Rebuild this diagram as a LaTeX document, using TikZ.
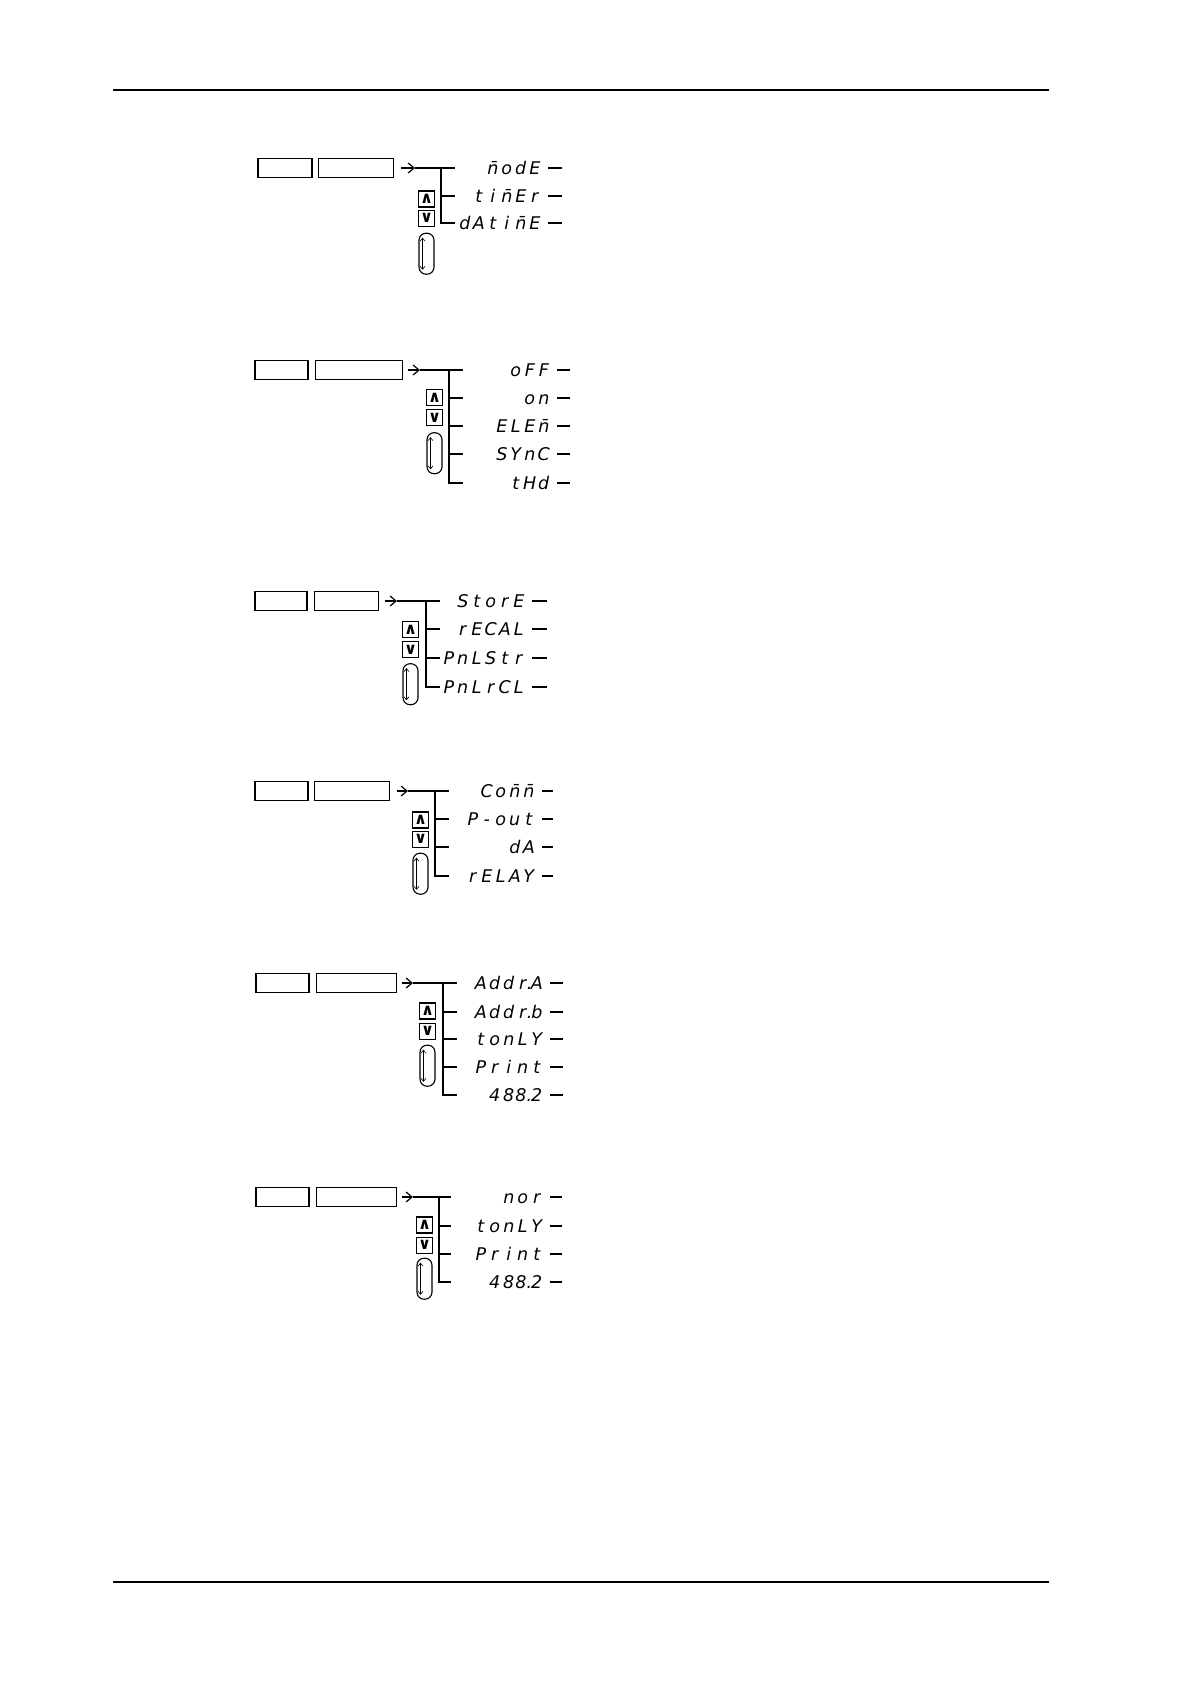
\documentclass[tikz,border=0pt]{standalone}
\usepackage{amsmath}
\usepackage{fontspec}
\newfontfamily\segfont{DejaVu Sans}
\usetikzlibrary{positioning, arrows.meta}
\ExplSyntaxOn
\NewDocumentCommand\seg{m}{\tl_map_inline:nn {#1}{\makebox[14pt][c]{##1}}}
\ExplSyntaxOff

\begin{document}
\begin{tikzpicture}[x=1pt, y=-1pt,
keybox/.style={rectangle, draw, line width=1.2pt, minimum height=19pt, inner sep=0pt},
arrowkey/.style={rectangle, draw, line width=1.1pt, minimum size=16pt, inner sep=0pt,
      font=\segfont\bfseries\fontsize{16}{16}\selectfont},
loopkey/.style={rectangle, draw, rounded corners=7pt, line width=1.1pt,
      minimum width=15pt, minimum height=41pt, inner sep=0pt},
seg/.style={anchor=east, inner sep=0pt, text height=12.5pt, text depth=0pt,
      font=\segfont\itshape\fontsize{17.5}{17.5}\selectfont},
bus/.style={line width=1.6pt},
branch/.style={line width=1.1pt},
feed/.style={-{Straight Barb[length=6pt, width=10pt]}, line width=1.2pt},
updown/.style={{Straight Barb[length=3pt, width=5pt]}-{Straight Barb[length=3pt, width=5pt]}, line width=0.6pt},]
 \fill[white] (0,0) rectangle (1190,1684);
 \draw[line width=1.2pt] (113,90) -- (1049,90);
 \draw[line width=1.2pt] (113,1582) -- (1049,1582);

 % menu 1
 \node[keybox, minimum width=54pt] (fn1) at (285,168) {};
 \node[keybox, minimum width=75pt, right=5pt of fn1] (sel1) {};
 \node[arrowkey] (up1) at (426.5,199) {∧};
 \node[arrowkey, below=2pt of up1] (dn1) {∨};
 \node[loopkey, below=6pt of dn1] (cyc1) {};
 \coordinate (tip1) at (415,168);
 \coordinate (tr1) at (441,168);
 \coordinate (end1) at (455,168);
 \node[seg] (m1a) at (542,168) {\seg{{n̄}odE}};
 \node[seg] (m1b) at (542,196) {\seg{ti{n̄}Er}};
 \node[seg] (m1c) at (542,223) {\seg{dAti{n̄}E}};
 \draw[feed, shorten <=7pt] (sel1) -- (tip1);
 \draw[bus] (tip1) -- (end1);
 \draw[branch] (tr1) |- (m1c -| end1);
 \draw[branch] (m1b -| tr1) -- (m1b -| end1);
 \foreach \m in {m1a,m1b,m1c} \draw[branch] ([xshift=6pt]\m.east) -- ++(14pt,0);
 \draw[updown] ([xshift=-4pt, yshift=-5pt]cyc1.north) -- ([xshift=-4pt, yshift=5pt]cyc1.south);

 % menu 2
 \node[keybox, minimum width=53pt] (fn2) at (281.5,370) {};
 \node[keybox, minimum width=87pt, right=6pt of fn2] (sel2) {};
 \node[arrowkey] (up2) at (434.5,397.5) {∧};
 \node[arrowkey, below=3pt of up2] (dn2) {∨};
 \node[loopkey, below=6pt of dn2] (cyc2) {};
 \coordinate (tip2) at (420,370);
 \coordinate (tr2) at (449,370);
 \coordinate (end2) at (463,370);
 \node[seg] (m2a) at (551,370) {\seg{oFF}};
 \node[seg] (m2b) at (551,398) {\seg{on}};
 \node[seg] (m2c) at (551,426) {\seg{ELE{n̄}}};
 \node[seg] (m2d) at (551,454) {\seg{SYnC}};
 \node[seg] (m2e) at (551,483) {\seg{tHd}};
 \draw[feed, shorten <=5pt] (sel2) -- (tip2);
 \draw[bus] (tip2) -- (end2);
 \draw[branch] (tr2) |- (m2e -| end2);
 \foreach \m in {m2b,m2c,m2d} \draw[branch] (\m -| tr2) -- (\m -| end2);
 \foreach \m in {m2a,m2b,m2c,m2d,m2e} \draw[branch] ([xshift=6pt]\m.east) -- ++(13pt,0);
 \draw[updown] ([xshift=-4pt, yshift=-5pt]cyc2.north) -- ([xshift=-4pt, yshift=5pt]cyc2.south);

 % menu 3
 \node[keybox, minimum width=52pt] (fn3) at (281,601) {};
 \node[keybox, minimum width=64pt, right=6pt of fn3] (sel3) {};
 \node[arrowkey] (up3) at (410.5,629.5) {∧};
 \node[arrowkey, below=3pt of up3] (dn3) {∨};
 \node[loopkey, below=5pt of dn3] (cyc3) {};
 \coordinate (tip3) at (397,601);
 \coordinate (tr3) at (426,601);
 \coordinate (end3) at (440,601);
 \node[seg] (m3a) at (526,601) {\seg{StorE}};
 \node[seg] (m3b) at (526,629) {\seg{rECAL}};
 \node[seg] (m3c) at (526,658) {\seg{PnLStr}};
 \node[seg] (m3d) at (526,687) {\seg{PnLrCL}};
 \draw[feed, shorten <=6pt] (sel3) -- (tip3);
 \draw[bus] (tip3) -- (end3);
 \draw[branch] (tr3) |- (m3d -| end3);
 \foreach \m in {m3b,m3c} \draw[branch] (\m -| tr3) -- (\m -| end3);
 \foreach \m in {m3a,m3b,m3c,m3d} \draw[branch] ([xshift=6pt]\m.east) -- ++(15pt,0);
 \draw[updown] ([xshift=-4pt, yshift=-5pt]cyc3.north) -- ([xshift=-4pt, yshift=5pt]cyc3.south);

 % menu 4
 \node[keybox, minimum width=53pt] (fn4) at (281.5,791) {};
 \node[keybox, minimum width=75pt, right=5pt of fn4] (sel4) {};
 \node[arrowkey] (up4) at (420.5,820) {∧};
 \node[arrowkey, below=2pt of up4] (dn4) {∨};
 \node[loopkey, below=5pt of dn4] (cyc4) {};
 \coordinate (tip4) at (408,791);
 \coordinate (tr4) at (435,791);
 \coordinate (end4) at (449,791);
 \node[seg] (m4a) at (536,791) {\seg{Co{n̄}{n̄}}};
 \node[seg] (m4b) at (536,819) {\seg{P-out}};
 \node[seg] (m4c) at (536,847) {\seg{dA}};
 \node[seg] (m4d) at (536,876) {\seg{rELAY}};
 \draw[feed, shorten <=7pt] (sel4) -- (tip4);
 \draw[bus] (tip4) -- (end4);
 \draw[branch] (tr4) |- (m4d -| end4);
 \foreach \m in {m4b,m4c} \draw[branch] (\m -| tr4) -- (\m -| end4);
 \foreach \m in {m4a,m4b,m4c,m4d} \draw[branch] ([xshift=6pt]\m.east) -- ++(11pt,0);
 \draw[updown] ([xshift=-4pt, yshift=-5pt]cyc4.north) -- ([xshift=-4pt, yshift=5pt]cyc4.south);

 % menu 5
 \node[keybox, minimum width=53pt] (fn5) at (282.5,983) {};
 \node[keybox, minimum width=80pt, right=6pt of fn5] (sel5) {};
 \node[arrowkey] (up5) at (427.5,1011) {∧};
 \node[arrowkey, below=3pt of up5] (dn5) {∨};
 \node[loopkey, below=5pt of dn5] (cyc5) {};
 \coordinate (tip5) at (413,983);
 \coordinate (tr5) at (443,983);
 \coordinate (end5) at (457,983);
 \node[seg] (m5a) at (544,983) {\seg{Ad{d}{r\rlap{\kern0.5pt.}}A}};
 \node[seg] (m5b) at (544,1012) {\seg{Ad{d}{r\rlap{\kern0.5pt.}}b}};
 \node[seg] (m5c) at (544,1039) {\seg{tonLY}};
 \node[seg] (m5d) at (544,1067) {\seg{Print}};
 \node[seg] (m5e) at (544,1095) {\seg{48{\hspace{-3.5pt}8\rlap{.}}2}};
 \draw[feed, shorten <=5pt] (sel5) -- (tip5);
 \draw[bus] (tip5) -- (end5);
 \draw[branch] (tr5) |- (m5e -| end5);
 \foreach \m in {m5b,m5c,m5d} \draw[branch] (\m -| tr5) -- (\m -| end5);
 \foreach \m in {m5a,m5b,m5c,m5d,m5e} \draw[branch] ([xshift=6pt]\m.east) -- ++(13pt,0);
 \draw[updown] ([xshift=-4pt, yshift=-5pt]cyc5.north) -- ([xshift=-4pt, yshift=5pt]cyc5.south);

 % menu 6
 \node[keybox, minimum width=53pt] (fn6) at (282.5,1197) {};
 \node[keybox, minimum width=80pt, right=6pt of fn6] (sel6) {};
 \node[arrowkey] (up6) at (424.5,1225) {∧};
 \node[arrowkey, below=3pt of up6] (dn6) {∨};
 \node[loopkey, below=4pt of dn6] (cyc6) {};
 \coordinate (tip6) at (413,1197);
 \coordinate (tr6) at (439,1197);
 \coordinate (end6) at (451,1197);
 \node[seg] (m6a) at (544,1197) {\seg{nor}};
 \node[seg] (m6b) at (544,1226) {\seg{tonLY}};
 \node[seg] (m6c) at (544,1254) {\seg{Print}};
 \node[seg] (m6d) at (544,1282) {\seg{48{\hspace{-3.5pt}8\rlap{.}}2}};
 \draw[feed, shorten <=5pt] (sel6) -- (tip6);
 \draw[bus] (tip6) -- (end6);
 \draw[branch] (tr6) |- (m6d -| end6);
 \foreach \m in {m6b,m6c} \draw[branch] (\m -| tr6) -- (\m -| end6);
 \foreach \m in {m6a,m6b,m6c,m6d} \draw[branch] ([xshift=6pt]\m.east) -- ++(12pt,0);
 \draw[updown] ([xshift=-4pt, yshift=-5pt]cyc6.north) -- ([xshift=-4pt, yshift=5pt]cyc6.south);

\end{tikzpicture}
\end{document}
